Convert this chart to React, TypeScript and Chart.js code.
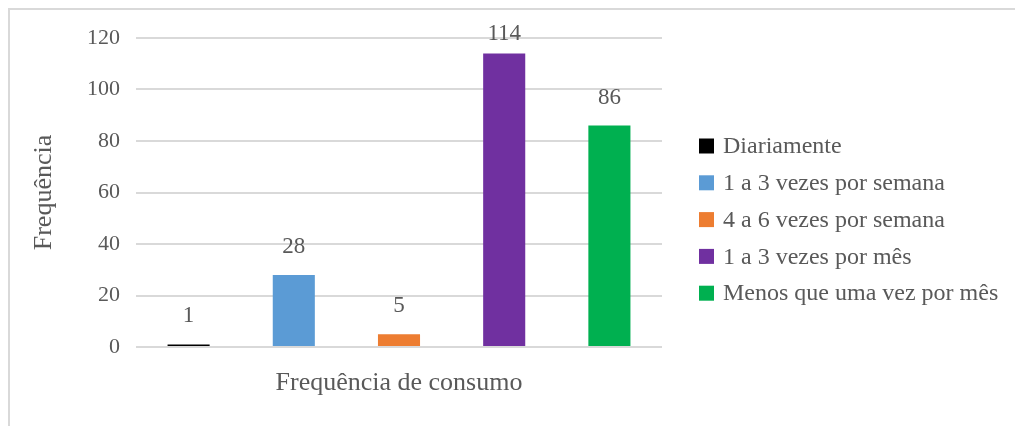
import React, { useEffect, useRef } from "react";
import { Chart, registerables } from "chart.js";

Chart.register(...registerables);

const seriesNames = [
  "Diariamente",
  "1 a 3 vezes por semana",
  "4 a 6 vezes por semana",
  "1 a 3 vezes por mês",
  "Menos que uma vez por mês",
];
const seriesValues = [1, 28, 5, 114, 86];
const seriesColors = ["#000000", "#5B9BD5", "#ED7D31", "#7030A0", "#00B050"];
const categories = [""];
const yTicks = { min: 0, max: 120, step: 20 };
const xTitle = "Frequência de consumo";
const yTitle = "Frequência";

const FONT = "'Liberation Serif', 'Times New Roman', serif";
const TEXT = "#595959";

const decorPlugin = {
  id: "decor",
  beforeDraw(chart: any) {
    const ctx = chart.ctx;
    ctx.save();
    ctx.fillStyle = "#ffffff";
    ctx.fillRect(0, 0, chart.width, chart.height);
    ctx.strokeStyle = "#d9d9d9";
    ctx.lineWidth = 2;
    ctx.beginPath();
    ctx.moveTo(9, chart.height);
    ctx.lineTo(9, 9);
    ctx.lineTo(chart.width, 9);
    ctx.stroke();
    ctx.restore();
  },
  afterDatasetsDraw(chart: any) {
    const ctx = chart.ctx;
    ctx.save();
    ctx.font = `23px ${FONT}`;
    ctx.fillStyle = TEXT;
    ctx.textAlign = "center";
    ctx.textBaseline = "alphabetic";
    chart.data.datasets.forEach((ds: any, i: number) => {
      const meta = chart.getDatasetMeta(i);
      meta.data.forEach((bar: any, j: number) => {
        const v = ds.data[j];
        if (v == null) return;
        const y = Math.max(bar.y - 22, chart.chartArea.top + 2);
        ctx.fillText(String(v), bar.x, y);
      });
    });
    // legend
    const lx = 699;
    const ly0 = 146;
    const step = 36.8;
    ctx.font = `24px ${FONT}`;
    ctx.textAlign = "left";
    ctx.textBaseline = "middle";
    chart.data.datasets.forEach((ds: any, i: number) => {
      const cy = ly0 + i * step;
      ctx.fillStyle = ds.backgroundColor;
      ctx.fillRect(lx, cy - 7.5, 15, 15);
      ctx.fillStyle = TEXT;
      ctx.fillText(ds.label, lx + 24, cy + 1);
    });
    ctx.restore();
  },
};

export default function App() {
  const ref = useRef<HTMLCanvasElement | null>(null);
  useEffect(() => {
    if (!ref.current) return;
    const chart = new Chart(ref.current, {
      type: "bar",
      data: {
        labels: categories,
        datasets: seriesNames.map((name, i) => ({
          label: name,
          data: [seriesValues[i]],
          backgroundColor: seriesColors[i],
          borderWidth: 0,
          categoryPercentage: 1,
          barPercentage: 0.4,
        })),
      },
      options: {
        animation: false,
        responsive: true,
        maintainAspectRatio: false,
        layout: { padding: { left: 16, top: 38, right: 353, bottom: 27 } },
        plugins: {
          legend: { display: false },
          tooltip: { enabled: false },
        },
        scales: {
          x: {
            ticks: { display: false },
            grid: { display: false, drawTicks: false },
            border: { display: false },
            title: {
              display: true,
              text: xTitle,
              color: TEXT,
              font: { family: FONT, size: 26 },
              padding: { top: 0, bottom: 0 },
            },
            afterFit: (s: any) => {
              s.height = 52;
            },
          },
          y: {
            min: yTicks.min,
            max: yTicks.max,
            ticks: {
              stepSize: yTicks.step,
              color: TEXT,
              padding: 16,
              font: { family: FONT, size: 22 },
            },
            grid: { color: "#d9d9d9", lineWidth: 2, drawTicks: false },
            border: { display: false },
            title: {
              display: true,
              text: yTitle,
              color: TEXT,
              font: { family: FONT, size: 26 },
              padding: { top: 13, bottom: 0 },
            },
            afterFit: (s: any) => {
              s.width = 120;
            },
          },
        },
      },
      plugins: [decorPlugin],
    });
    return () => chart.destroy();
  }, []);
  return (
    <div style={{ position: "fixed", left: 0, top: 0, width: 1015, height: 426, background: "#fff" }}>
      <canvas ref={ref} />
    </div>
  );
}
